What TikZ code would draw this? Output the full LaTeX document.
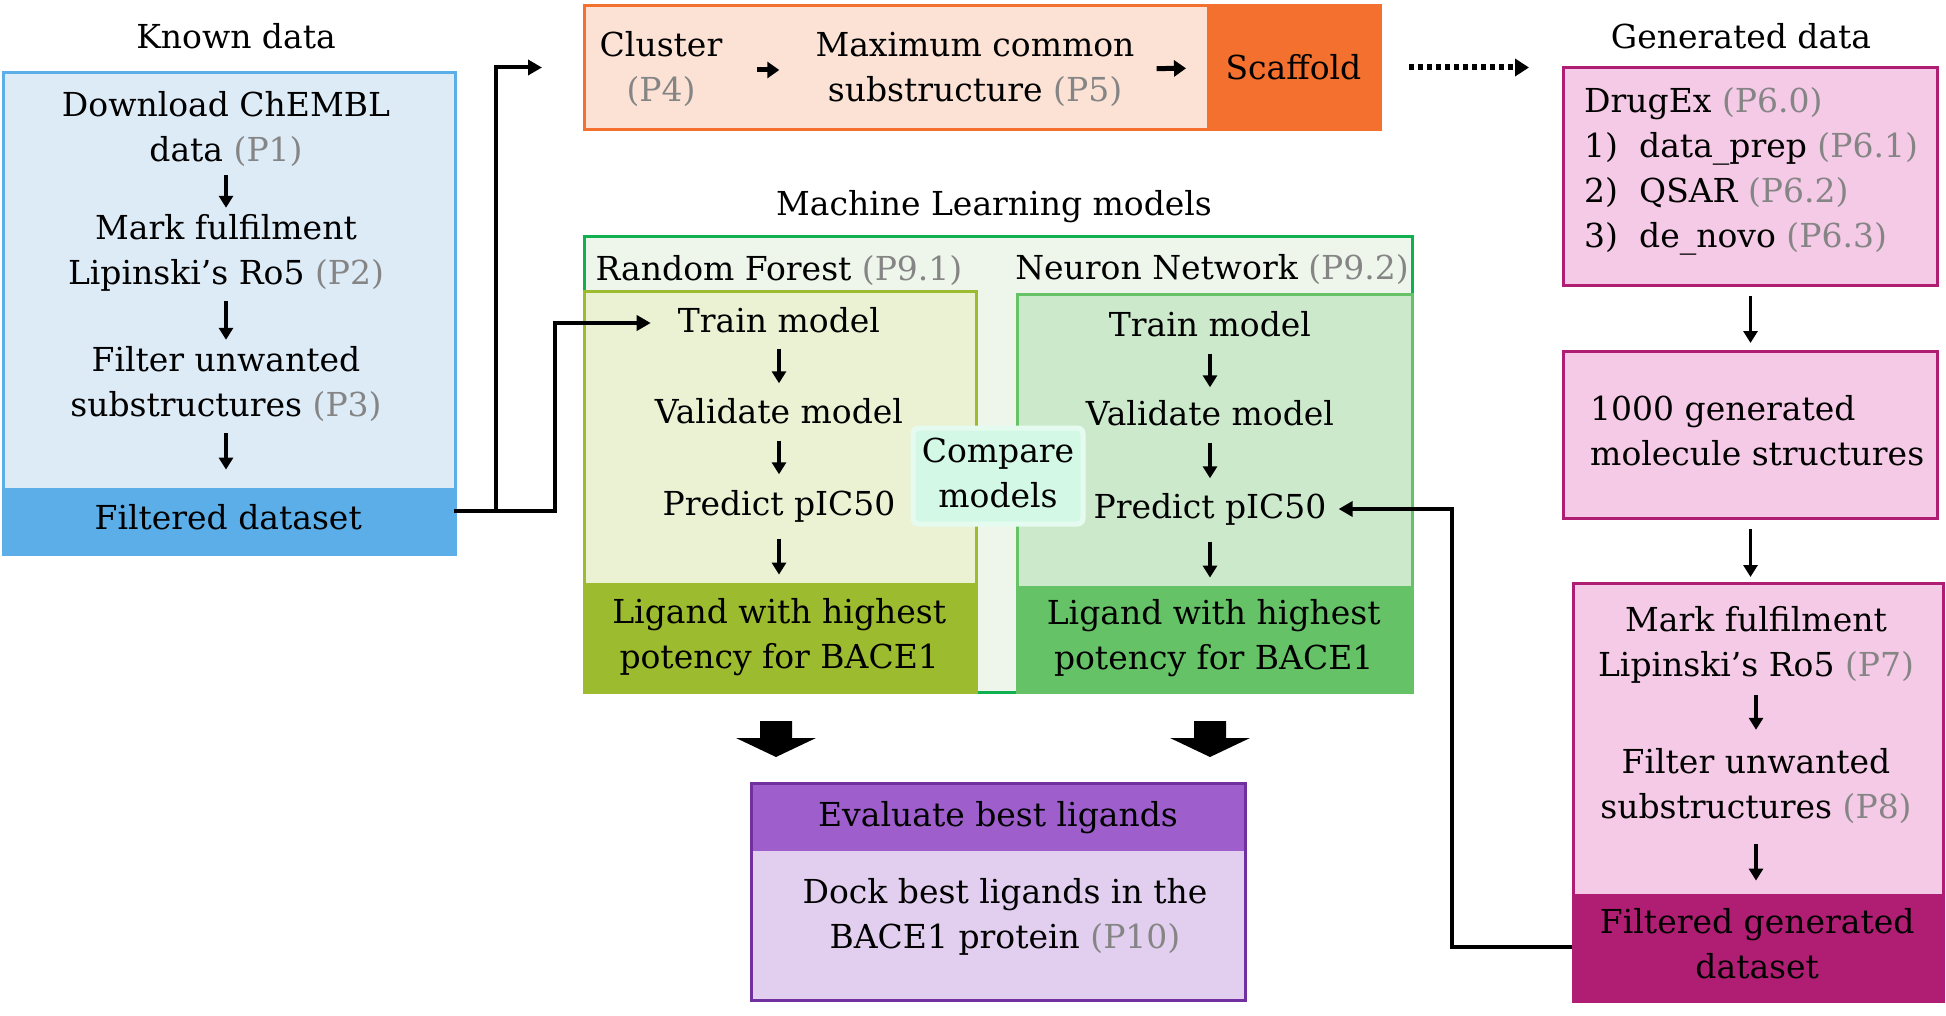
\documentclass[tikz,border=0pt]{standalone}
\usepackage{fontspec}
\setmainfont{DejaVu Serif}
\usetikzlibrary{arrows.meta,calc}
\definecolor{gtxt}{HTML}{858585}
\definecolor{bluelt}{HTML}{DDEBF7}
\definecolor{bluebd}{HTML}{5BAEE8}
\definecolor{orglt}{HTML}{FBE2D5}
\definecolor{orgbd}{HTML}{F4702E}
\definecolor{pinklt}{HTML}{F5CAE6}
\definecolor{pinkbd}{HTML}{AF1E73}
\definecolor{grnlt}{HTML}{EEF6EC}
\definecolor{grnbd}{HTML}{10B050}
\definecolor{rflt}{HTML}{EBF1D3}
\definecolor{rfbd}{HTML}{9DBB2E}
\definecolor{nnlt}{HTML}{CCEACB}
\definecolor{nnbd}{HTML}{66C266}
\definecolor{cmpfill}{HTML}{D3F9E6}
\definecolor{purlt}{HTML}{E2CFF0}
\definecolor{purhd}{HTML}{9E5ECC}
\definecolor{purbd}{HTML}{7030A0}
\newcommand\pref[1]{\textcolor{gtxt}{(#1)}}
\newcommand\mainsz{\fontsize{33}{45}\selectfont}
\begin{document}
\begin{tikzpicture}[x=1pt,y=-1pt,
  txt/.style={font=\mainsz, align=center, inner sep=0pt},
  txtl/.style={font=\mainsz, align=left, inner sep=0pt, anchor=west},
  boxn/.style={inner sep=0pt, anchor=north west, line width=3pt},
  bandn/.style={inner sep=0pt, anchor=south west, font=\mainsz, align=center},
  sarrow/.style={line width=3.5pt, -{Triangle[width=14pt,length=12pt]}},
  oarrow/.style={line width=5pt, -{Triangle[width=16pt,length=12pt]}},
  conn/.style={line width=4pt, -{Triangle[width=15pt,length=14pt]}},
  dotarrow/.style={line width=6pt, dash pattern=on 5pt off 4pt, -{Triangle[width=17pt,length=14pt]}},
]
\useasboundingbox[fill=white] (0,0) rectangle (1946,1016);

% ---------- Known data ----------
\node[txt] (ktitle) at (236,40) {\strut Known data};
\node[boxn, draw=bluebd, fill=bluelt, minimum width=452, minimum height=482] (kbox) at (2,71) {};
\node[bandn, fill=bluebd, minimum width=452, minimum height=65] (kband) at (2,553) {\strut Filtered dataset};
\node[txt] (k1) at (226,130) {\strut Download ChEMBL\\\strut data \pref{P1}};
\node[txt] (k2) at (226,253) {\strut Mark fulfilment\\\strut Lipinski’s Ro5 \pref{P2}};
\node[txt] (k3) at (226,385) {\strut Filter unwanted\\\strut substructures \pref{P3}};
\draw[sarrow] (k1) -- (k2);
\draw[sarrow, shorten <=3pt] (k2) -- (k3);
\draw[sarrow, shorten <=3pt, shorten >=18pt] (k3) -- (k3 |- kband.north);

% ---------- Orange strip ----------
\node[boxn, draw=orgbd, fill=orglt, minimum width=796, minimum height=124] (obox) at (583,4) {};
\node[boxn, fill=orgbd, minimum width=174, minimum height=124, font=\mainsz] (oscaf) at (1205,4) {Scaffold};
\node[txt] (clu) at (661,70) {\strut Cluster\\\strut\pref{P4}};
\node[txt] (mcs) at (975,70) {\strut Maximum common\\\strut substructure \pref{P5}};
\draw[oarrow, shorten <=35pt, shorten >=36pt] (clu.east |- mcs) -- (mcs);
\draw[oarrow, shorten <=22pt, shorten >=19pt] (mcs) -- (oscaf);

% ---------- Generated data ----------
\node[txt] (gtitle) at (1741,40) {\strut Generated data};
\node[boxn, draw=pinkbd, fill=pinklt, minimum width=374, minimum height=218] (p1box) at (1562,66) {};
\node[txtl] (p1t) at (1584,171.5) {\strut DrugEx \pref{P6.0}\\
  \strut\makebox[55pt][l]{1)}data\_prep \pref{P6.1}\\
  \strut\makebox[55pt][l]{2)}QSAR \pref{P6.2}\\
  \strut\makebox[55pt][l]{3)}de\_novo \pref{P6.3}};
\node[boxn, draw=pinkbd, fill=pinklt, minimum width=374, minimum height=167] (p2box) at (1562,350) {};
\node[txtl] (p2t) at (1590,433.5) {\strut 1000 generated\\\strut molecule structures};
\node[boxn, draw=pinkbd, fill=pinklt, minimum width=370, minimum height=418] (p3box) at (1572,582) {};
\node[bandn, fill=pinkbd, minimum width=370, minimum height=106] (p3band) at (1572,1000) {\strut Filtered generated\\\strut dataset};
\node[txt] (g1) at (1756,645) {\strut Mark fulfilment\\\strut Lipinski’s Ro5 \pref{P7}};
\node[txt] (g2) at (1756,787) {\strut Filter unwanted\\\strut substructures \pref{P8}};
\draw[sarrow, shorten <=9pt, shorten >=7pt] (p1box) -- (p2box);
\draw[sarrow, shorten <=9pt, shorten >=5pt] (p2box.south) -- (p2box.south |- p3box.north);
\draw[sarrow, shorten <=5pt, shorten >=12pt] (g1) -- (g2);
\draw[sarrow, shorten <=12pt, shorten >=13pt] (g2) -- (g2 |- p3band.north);

\draw[dotarrow, shorten <=27pt, shorten >=33pt] (obox.east) -- (obox.east -| p1box.west);

% ---------- Machine learning ----------
\node[txt] (mltitle) at (994,207) {\strut Machine Learning models};
\node[boxn, draw=grnbd, fill=grnlt, minimum width=828, minimum height=456] (mlbox) at (583,235) {};
\node[boxn, draw=rfbd, fill=rflt, minimum width=392, minimum height=401] (rfbox) at (583,290) {};
\node[bandn, fill=rfbd, minimum width=392, minimum height=108] (rfband) at (583,691) {\strut Ligand with highest\\\strut potency for BACE1};
\node[boxn, draw=nnbd, fill=nnlt, minimum width=395, minimum height=398] (nnbox) at (1016,293) {};
\node[bandn, fill=nnbd, minimum width=395, minimum height=105] (nnband) at (1016,691) {\strut Ligand with highest\\\strut potency for BACE1};
\node[txt] (rfh) at (779,272) {\strut Random Forest \pref{P9.1}};
\node[txt] (nnh) at (1212,271) {\strut Neuron Network \pref{P9.2}};

\node[txt] (rfT) at (779,323) {\strut Train model};
\node[txt] (rfV) at (779,414) {\strut Validate model};
\node[txt] (rfP) at (779,506) {\strut Predict pIC50};
\node[txt] (nnT) at (1210,327) {\strut Train model};
\node[txt] (nnV) at (1210,416) {\strut Validate model};
\node[txt] (nnP) at (1210,509) {\strut Predict pIC50};
\draw[sarrow, shorten <=3pt, shorten >=8pt] (rfT) -- (rfV);
\draw[sarrow, shorten <=4pt, shorten >=9pt] (rfV) -- (rfP);
\draw[sarrow, shorten <=10pt, shorten >=8pt] (rfP) -- (rfP |- rfband.north);
\draw[sarrow, shorten <=4pt, shorten >=6pt] (nnT) -- (nnV);
\draw[sarrow, shorten <=4pt, shorten >=8pt] (nnV) -- (nnP);
\draw[sarrow, shorten <=10pt, shorten >=8pt] (nnP) -- (nnP |- nnband.north);

\node[fill=cmpfill!60, rounded corners=8pt, minimum width=175, minimum height=101, inner sep=0pt] (cmpglow) at (998,476) {};
\node[fill=cmpfill, rounded corners=4pt, minimum width=165, minimum height=91, inner sep=0pt, font=\mainsz, align=center] (cmp) at (998,476) {\strut Compare\\\strut models};

% big block arrows
\fill (760,721) -- (792,721) -- (792,738) -- (816,738) -- (776,757) -- (736,738) -- (760,738) -- cycle;
\fill (1194,721) -- (1226,721) -- (1226,738) -- (1250,738) -- (1210,757) -- (1170,738) -- (1194,738) -- cycle;

% ---------- Evaluate ----------
\node[boxn, fill=purlt, minimum width=491, minimum height=214] (pbox) at (751,783) {};
\node[boxn, fill=purhd, minimum width=491, minimum height=66, font=\mainsz] (phead) at (751,783) {\strut Evaluate best ligands};
\draw[purbd, line width=3pt] (pbox.north west) rectangle (pbox.south east);
\node[txt] (pdock) at (1005,917) {\strut Dock best ligands in the\\\strut BACE1 protein \pref{P10}};

% ---------- connectors ----------
\draw[conn, shorten >=41pt] ([yshift=9pt]kband.east) -- ++(42,0) |- (obox.west);
\draw[conn, shorten >=27pt] ([yshift=9pt]kband.east) -- ++(101,0) |- (rfT.west);
\draw[conn, shorten >=12pt] (p3band.west) -- ++(-120,0) |- (nnP.east);
\end{tikzpicture}
\end{document}
